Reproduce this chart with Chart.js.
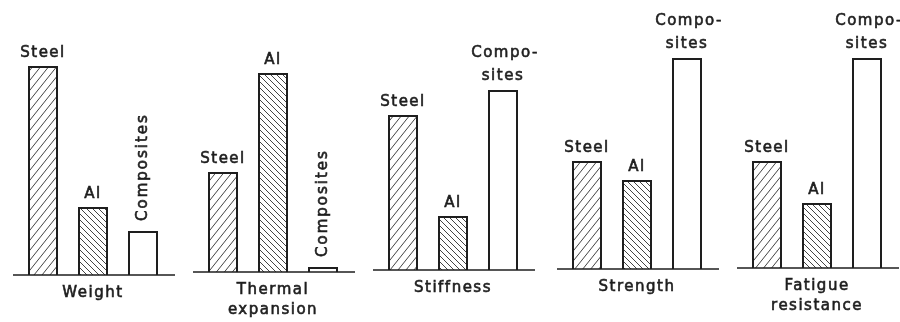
<!DOCTYPE html>
<html>
<head>
<meta charset="utf-8">
<script src="https://cdn.jsdelivr.net/npm/chart.js@4.4.1/dist/chart.umd.min.js"></script>
<style>
  html, body { margin: 0; padding: 0; background: #fff; }
  #wrap { position: relative; width: 900px; height: 322px; overflow: hidden; }
  #wrap canvas { position: absolute; top: 0; }
</style>
</head>
<body>
<div id="wrap"></div>
<script>
const properties = [["Weight"], ["Thermal", "expansion"], ["Stiffness"], ["Strength"], ["Fatigue", "resistance"]];
const materials = ["Steel", "Al", "Composites"];
const steel = [209, 100, 155, 108, 107];
const al = [68, 199, 54, 89, 65];
const composites = [44, 5, 180, 211, 210];
const compositesRotated = [true, true, false, false, false];

// panel layout (chart area left edge and baseline y)
const panelLeft = [18, 198, 378, 562, 742];
const panelBase = [275, 272, 270, 269, 268];
const Y_MAX = 230;
const PAD = 20;
const AREA_W = 150;
const H = 322;
const INK = "#1e1e1e";
const FONT = "15px 'DejaVu Sans'";

function hatch(w, h, dir) {
  const c = document.createElement("canvas");
  c.width = w;
  c.height = h;
  const g = c.getContext("2d");
  g.fillStyle = "#fff";
  g.fillRect(0, 0, w, h);
  g.strokeStyle = "#444";
  g.lineWidth = 1;
  g.beginPath();
  for (let k = -1; k <= 1; k++) {
    if (dir > 0) { g.moveTo(k * w, h); g.lineTo(k * w + w, 0); }
    else { g.moveTo(k * w, 0); g.lineTo(k * w + w, h); }
  }
  g.stroke();
  return g.createPattern(c, "repeat");
}

// thicker lettering like the scanned original
function text(ctx, s, x, y) {
  ctx.fillText(s, x, y);
  ctx.strokeText(s, x, y);
}

const labelPlugin = {
  id: "labels",
  afterDatasetsDraw(chart, args, opts) {
    const ctx = chart.ctx;
    const area = chart.chartArea;
    const i = opts.panel;
    const meta = chart.getDatasetMeta(0);
    ctx.save();
    // baseline
    ctx.strokeStyle = INK;
    ctx.lineWidth = 1.5;
    ctx.beginPath();
    ctx.moveTo(area.left - 5, area.bottom);
    ctx.lineTo(area.right + 7, area.bottom);
    ctx.stroke();

    ctx.fillStyle = INK;
    ctx.lineWidth = 0.6;
    ctx.font = FONT;
    ctx.letterSpacing = "1.5px";
    ctx.textAlign = "center";
    ctx.textBaseline = "middle";
    meta.data.forEach((bar, j) => {
      if (j === 2 && compositesRotated[i]) {
        ctx.save();
        ctx.translate(bar.x, bar.y - 10);
        ctx.rotate(-Math.PI / 2);
        ctx.textAlign = "left";
        ctx.letterSpacing = "2px";
        text(ctx, materials[j], 0, 0);
        ctx.restore();
      } else if (j === 2) {
        text(ctx, "Compo-", bar.x + 2, bar.y - 37);
        text(ctx, "sites", bar.x, bar.y - 14);
      } else {
        text(ctx, materials[j], bar.x, bar.y - 13);
      }
    });
    properties[i].forEach((t, k) => {
      text(ctx, t, (area.left + area.right) / 2, area.bottom + 18 + k * 20);
    });
    ctx.restore();
  }
};

const wrap = document.getElementById("wrap");

properties.forEach((p, i) => {
  const canvas = document.createElement("canvas");
  canvas.width = AREA_W + 2 * PAD;
  canvas.height = H;
  canvas.style.left = (panelLeft[i] - PAD) + "px";
  wrap.appendChild(canvas);
  const base = panelBase[i];

  new Chart(canvas, {
    type: "bar",
    data: {
      labels: materials,
      datasets: [{
        data: [steel[i], al[i], composites[i]],
        backgroundColor: [hatch(8, 10, 1), hatch(6, 6, -1), "#fff"],
        borderColor: INK,
        borderWidth: 2,
        borderSkipped: "bottom",
        barPercentage: 0.6,
        categoryPercentage: 1
      }]
    },
    options: {
      responsive: false,
      animation: false,
      events: [],
      layout: { padding: { left: PAD, right: PAD, top: base - Y_MAX, bottom: H - base } },
      plugins: {
        legend: { display: false },
        tooltip: { enabled: false },
        labels: { panel: i }
      },
      scales: {
        x: { display: false },
        y: { display: false, min: 0, max: Y_MAX }
      }
    },
    plugins: [labelPlugin]
  });
});
</script>
</body>
</html>
